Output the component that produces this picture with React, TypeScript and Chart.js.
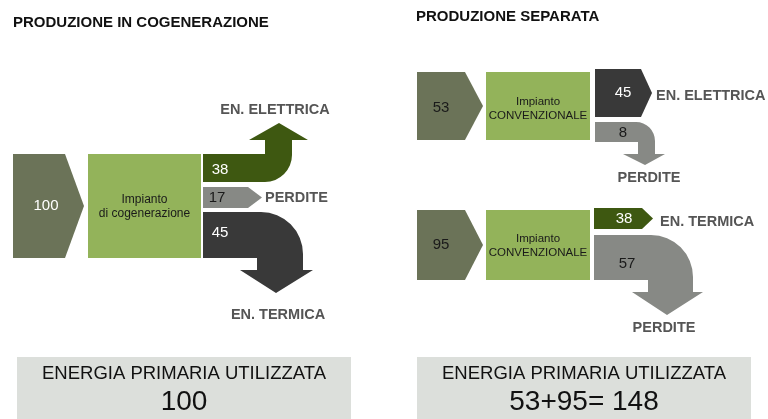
import React, { useEffect, useRef } from "react";
import { Chart, registerables } from "chart.js";

Chart.register(...registerables);

// ---- data ----
const TITLES = ["PRODUZIONE IN COGENERAZIONE", "PRODUZIONE SEPARATA"];
const COGEN_INPUT = 100;
const COGEN_PLANT = ["Impianto", "di cogenerazione"];
const COGEN_OUTPUT_LABELS = ["EN. ELETTRICA", "PERDITE", "EN. TERMICA"];
const COGEN_OUTPUT_VALUES = [38, 17, 45];
const SEP_INPUTS = [53, 95];
const SEP_PLANT = ["Impianto", "CONVENZIONALE"];
const SEP_ELEC_LABELS = ["EN. ELETTRICA", "PERDITE"];
const SEP_ELEC_VALUES = [45, 8];
const SEP_HEAT_LABELS = ["EN. TERMICA", "PERDITE"];
const SEP_HEAT_VALUES = [38, 57];
const SUMMARY_TITLE = "ENERGIA PRIMARIA UTILIZZATA";

// ---- styles ----
const C = {
  olive: "#6b7358",
  green: "#93b35a",
  darkGreen: "#3e5811",
  dark: "#393939",
  gray: "#878985",
  label: "#555555",
  box: "#dcdfdb",
  text: "#111111",
};
const FONT = "'Liberation Sans', Arial, sans-serif";

type Cmd = [string, ...number[]];

const diagramPlugin = {
  id: "diagram",
  afterDraw(chart: any) {
    const ctx: CanvasRenderingContext2D = chart.ctx;
    const xs = chart.scales.x;
    const ys = chart.scales.y;
    const X = (v: number) => xs.getPixelForValue(v);
    const Y = (v: number) => ys.getPixelForValue(v);

    const path = (cmds: Cmd[], color: string) => {
      ctx.save();
      ctx.beginPath();
      for (const c of cmds) {
        const [op, ...a] = c;
        if (op === "M") ctx.moveTo(X(a[0]), Y(a[1]));
        else if (op === "L") ctx.lineTo(X(a[0]), Y(a[1]));
        else if (op === "A") ctx.arcTo(X(a[0]), Y(a[1]), X(a[2]), Y(a[3]), a[4]);
      }
      ctx.closePath();
      ctx.fillStyle = color;
      ctx.fill();
      ctx.restore();
    };
    const chevron = (x0: number, x1: number, tip: number, y0: number, y1: number, color: string) =>
      path(
        [
          ["M", x0, y0],
          ["L", x1, y0],
          ["L", tip, (y0 + y1) / 2],
          ["L", x1, y1],
          ["L", x0, y1],
        ],
        color
      );
    const rect = (x0: number, y0: number, x1: number, y1: number, color: string) =>
      path(
        [
          ["M", x0, y0],
          ["L", x1, y0],
          ["L", x1, y1],
          ["L", x0, y1],
        ],
        color
      );
    const text = (
      s: string,
      x: number,
      y: number,
      size: number,
      color: string,
      bold = false,
      align: CanvasTextAlign = "center"
    ) => {
      ctx.save();
      ctx.font = `${bold ? "bold " : ""}${size}px ${FONT}`;
      ctx.fillStyle = color;
      ctx.textAlign = align;
      ctx.textBaseline = "middle";
      ctx.fillText(s, X(x), Y(y));
      ctx.restore();
    };

    // titles
    text(TITLES[0], 13, 23, 15, "#111", true, "left");
    text(TITLES[1], 416, 17, 15, "#111", true, "left");

    // ===== cogeneration =====
    chevron(13, 65, 84, 154, 258, C.olive);
    text(String(COGEN_INPUT), 46, 206, 15, "#ffffff");
    rect(88, 154, 201, 258, C.green);
    text(COGEN_PLANT[0], 144.5, 200, 12, "#1a1a1a");
    text(COGEN_PLANT[1], 144.5, 214, 12, "#1a1a1a");

    // electric (bent up)
    path(
      [
        ["M", 203, 154],
        ["L", 265, 154],
        ["L", 265, 140],
        ["L", 249, 140],
        ["L", 279, 123],
        ["L", 308, 140],
        ["L", 292, 140],
        ["A", 292, 182, 266, 182, 27],
        ["L", 203, 182],
      ],
      C.darkGreen
    );
    text(String(COGEN_OUTPUT_VALUES[0]), 220, 170, 15, "#ffffff");
    text(COGEN_OUTPUT_LABELS[0], 275, 110, 14.5, C.label, true);

    // losses (straight)
    chevron(203, 248, 262, 187, 208, C.gray);
    text(String(COGEN_OUTPUT_VALUES[1]), 217, 198, 15, "#1a1a1a");
    text(COGEN_OUTPUT_LABELS[1], 265, 198, 14.5, C.label, true, "left");

    // thermal (bent down)
    path(
      [
        ["M", 203, 212],
        ["A", 303, 212, 303, 258, 42],
        ["L", 303, 270],
        ["L", 313, 270],
        ["L", 276, 293],
        ["L", 240, 270],
        ["L", 257, 270],
        ["L", 257, 258],
        ["L", 203, 258],
      ],
      C.dark
    );
    text(String(COGEN_OUTPUT_VALUES[2]), 220, 233, 15, "#ffffff");
    text(COGEN_OUTPUT_LABELS[2], 278, 315, 14.5, C.label, true);

    // ===== separate: electric plant =====
    chevron(417, 465, 483, 72, 140, C.olive);
    text(String(SEP_INPUTS[0]), 441, 108, 15, "#1a1a1a");
    rect(486, 72, 590, 140, C.green);
    text(SEP_PLANT[0], 538, 102, 11.5, "#1a1a1a");
    text(SEP_PLANT[1], 538, 116, 11.5, "#1a1a1a");

    chevron(595, 641, 652, 69, 117, C.dark);
    text(String(SEP_ELEC_VALUES[0]), 623, 93, 15, "#ffffff");
    text(SEP_ELEC_LABELS[0], 656, 96, 14.5, C.label, true, "left");

    path(
      [
        ["M", 595, 122],
        ["A", 655, 122, 655, 154, 19],
        ["L", 655, 154],
        ["L", 665, 154],
        ["L", 645, 165],
        ["L", 623, 154],
        ["L", 638, 154],
        ["L", 638, 142],
        ["L", 595, 142],
      ],
      C.gray
    );
    text(String(SEP_ELEC_VALUES[1]), 623, 133, 15, "#1a1a1a");
    text(SEP_ELEC_LABELS[1], 649, 178, 14.5, C.label, true);

    // ===== separate: thermal plant =====
    chevron(417, 465, 483, 210, 280, C.olive);
    text(String(SEP_INPUTS[1]), 441, 245, 15, "#1a1a1a");
    rect(486, 210, 590, 280, C.green);
    text(SEP_PLANT[0], 538, 239, 11.5, "#1a1a1a");
    text(SEP_PLANT[1], 538, 253, 11.5, "#1a1a1a");

    chevron(594, 642, 653, 208, 229, C.darkGreen);
    text(String(SEP_HEAT_VALUES[0]), 624, 219, 15, "#ffffff");
    text(SEP_HEAT_LABELS[0], 660, 222, 14.5, C.label, true, "left");

    path(
      [
        ["M", 594, 235],
        ["A", 693, 235, 693, 292, 42],
        ["L", 693, 292],
        ["L", 703, 292],
        ["L", 667, 315],
        ["L", 632, 292],
        ["L", 648, 292],
        ["L", 648, 280],
        ["L", 594, 280],
      ],
      C.gray
    );
    text(String(SEP_HEAT_VALUES[1]), 627, 264, 15, "#1a1a1a");
    text(SEP_HEAT_LABELS[1], 664, 328, 14.5, C.label, true);

    // ===== summaries =====
    rect(17, 357, 351, 420, C.box);
    rect(417, 357, 751, 420, C.box);
    text(SUMMARY_TITLE, 184, 374, 18.5, C.text);
    text(SUMMARY_TITLE, 584, 374, 18.5, C.text);
    text(String(COGEN_INPUT), 184, 402, 28, C.text);
    const sepTotal = SEP_INPUTS.reduce((a, b) => a + b, 0);
    text(`${SEP_INPUTS.join("+")}= ${sepTotal}`, 584, 402, 28, C.text);
  },
};

export default function App() {
  const ref = useRef<HTMLCanvasElement | null>(null);
  useEffect(() => {
    document.body.style.margin = "0";
    if (!ref.current) return;
    const chart = new Chart(ref.current, {
      type: "scatter",
      data: { datasets: [] },
      options: {
        animation: false,
        responsive: true,
        maintainAspectRatio: false,
        layout: { padding: 0 },
        plugins: { legend: { display: false }, tooltip: { enabled: false } },
        scales: {
          x: { type: "linear", min: 0, max: 768, display: false },
          y: { type: "linear", min: 0, max: 419, reverse: true, display: false },
        },
      },
      plugins: [diagramPlugin],
    });
    return () => chart.destroy();
  }, []);
  return (
    <div style={{ position: "absolute", left: 0, top: 0, width: 768, height: 419 }}>
      <canvas ref={ref} />
    </div>
  );
}
